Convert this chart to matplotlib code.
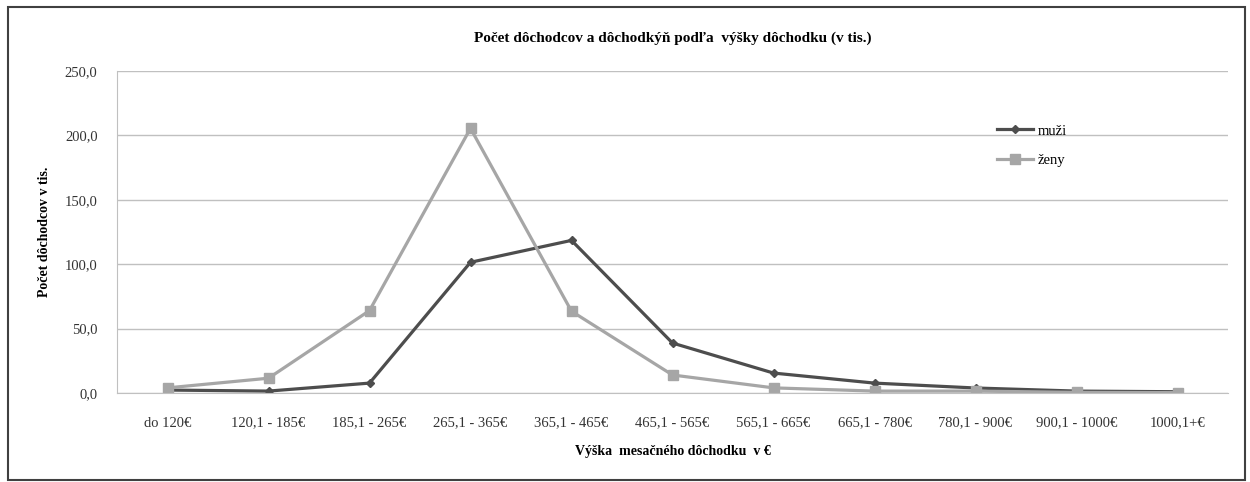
"""
Počet dôchodcov a dôchodkýň podľa výšky dôchodku
"""

import matplotlib.pyplot as plt
from matplotlib.patches import Rectangle

# Kategórie výšky dôchodku
categories = ['do 120€', '120,1 - 185€', '185,1 - 265€', '265,1 - 365€', '365,1 - 465€',
              '465,1 - 565€', '565,1 - 665€', '665,1 - 780€', '780,1 - 900€',
              '900,1 - 1000€', '1000,1+€']

# Počty v tisícoch (odčítané z grafu)
muzi = [2.3, 1.5, 7.7, 101.5, 118.5, 38.8, 15.5, 7.7, 3.9, 1.5, 1.0]
zeny = [4.0, 11.5, 64.0, 205.5, 63.5, 14.0, 4.0, 1.5, 1.5, 0.5, 0.3]

yticks = [0, 50, 100, 150, 200, 250]

plt.rcParams['font.family'] = ['Liberation Serif', 'DejaVu Serif']

fig = plt.figure(figsize=(12.5, 4.82), dpi=100)
ax = fig.add_axes([0.0936, 0.1846, 0.8888, 0.6681])

x = range(len(categories))
ax.plot(x, muzi, color='#4d4d4d', lw=2.3, marker='D', ms=4, label='muži')
ax.plot(x, zeny, color='#a6a6a6', lw=2.3, marker='s', ms=7, label='ženy')

ax.set_xlim(-0.5, len(categories) - 0.5)
ax.set_ylim(0, 250)
ax.set_yticks(yticks)
ax.set_yticklabels([f'{v:.1f}'.replace('.', ',') for v in yticks], fontsize=10.5, color='#333333')
ax.set_xticks(list(x))
ax.set_xticklabels(categories, fontsize=10.5, color='#333333')
ax.tick_params(axis='x', length=0, pad=17)
ax.tick_params(axis='y', length=0, pad=14)

ax.grid(axis='y', color='#c0c0c0', lw=1)
ax.set_axisbelow(True)
for s in ['top', 'right']:
    ax.spines[s].set_visible(False)
ax.spines['left'].set_color('#c0c0c0')
ax.spines['bottom'].set_color('#c0c0c0')

ax.set_xlabel('Výška  mesačného dôchodku  v €', fontsize=10, fontweight='bold', labelpad=11)
ax.set_ylabel('Počet dôchodcov v tis.', fontsize=10, fontweight='bold', labelpad=10)
ax.set_title('Počet dôchodcov a dôchodkýň podľa  výšky dôchodku (v tis.)',
             fontsize=11, fontweight='bold', pad=21)

ax.legend(loc='upper left', bbox_to_anchor=(0.78, 0.875), frameon=False, fontsize=10.5,
          handlelength=2.5, handletextpad=0.3, labelspacing=1.1)

# Rámik okolo grafu
fig.patches.append(Rectangle((0.006, 0.005), 0.99, 0.98, transform=fig.transFigure,
                             fill=False, edgecolor='#404040', lw=1.5))

plt.savefig('out.png', dpi=100)
